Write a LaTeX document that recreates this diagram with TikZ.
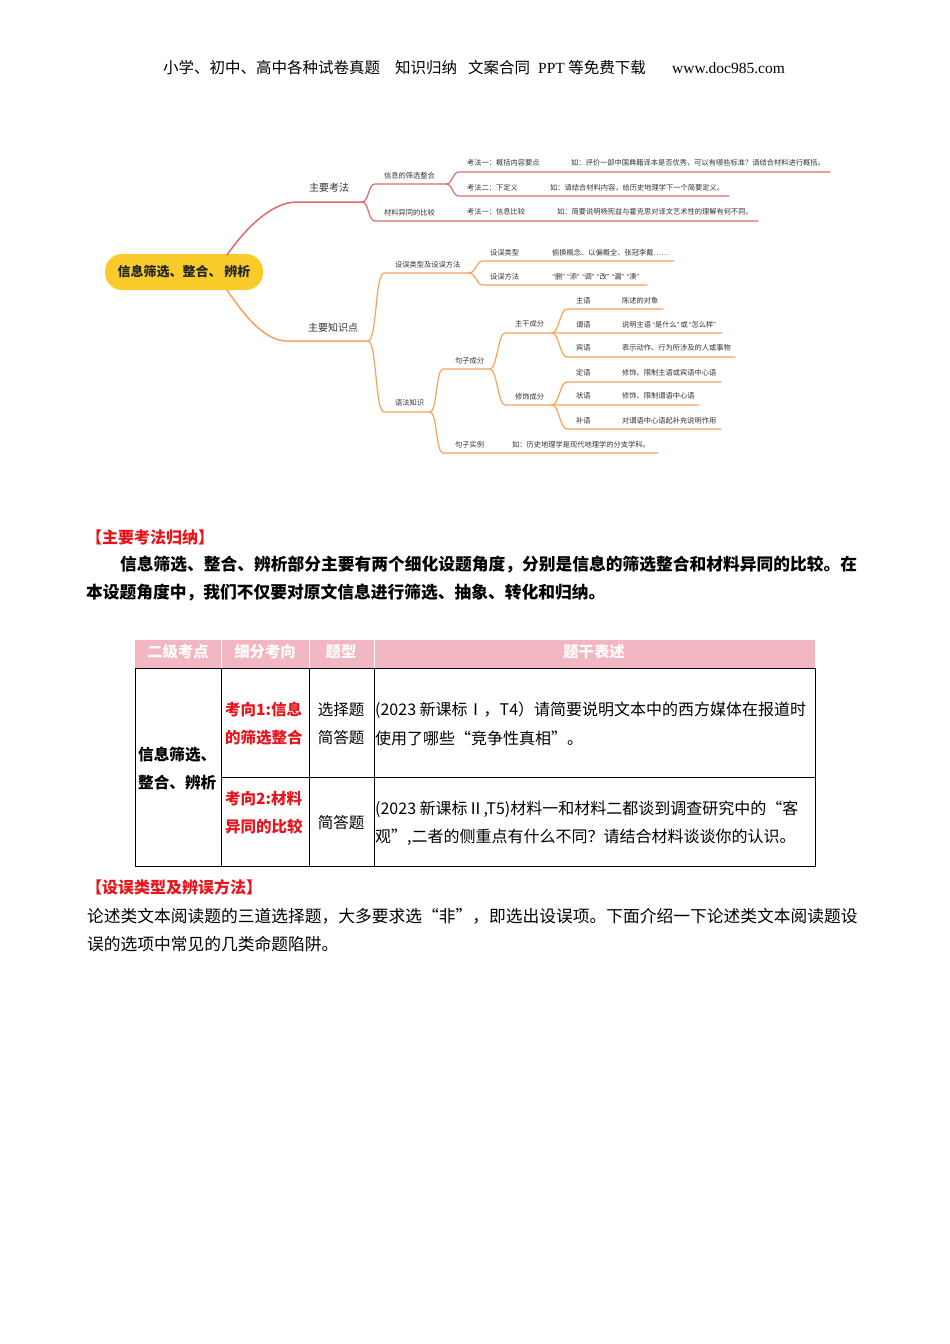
\documentclass[tikz,border=0pt]{standalone}
\usepackage{fontspec}
\setmainfont{Noto Sans CJK SC}
\newfontfamily\serifl{Liberation Serif}
\newfontfamily\qfont{Liberation Sans}
\newcommand\oq{\makebox[3.8pt][r]{\qfont “}}
\newcommand\cq{\makebox[3.8pt][l]{\qfont ”}}
\usetikzlibrary{calc}
\definecolor{mmred}{HTML}{E06A6C}
\definecolor{mmorg}{HTML}{F5A45C}
\definecolor{mmyel}{HTML}{F9CC2C}
\definecolor{mmtxt}{HTML}{333333}
\definecolor{hdpink}{HTML}{F3B6C3}
\definecolor{kred}{HTML}{E8141B}
\tikzset{
  redl/.style={draw=mmred,line width=1.2pt,line cap=round},
  orgl/.style={draw=mmorg,line width=1.2pt,line cap=round},
  sc/.style={to path={.. controls +(#1,0) and +(-#1,0) .. (\tikztotarget)}},
  sc/.default=7,
  sm/.style={anchor=west,inner sep=0pt,font=\fontsize{7.25}{8}\selectfont,text=mmtxt},
  lv1/.style={inner sep=0pt,font=\fontsize{10}{12}\selectfont,text=mmtxt},
  hdr/.style={anchor=west,inner sep=0pt,font=\fontsize{15.5}{18}\selectfont,text=black},
  sect/.style={anchor=west,inner sep=0pt,font=\fontsize{16}{19}\selectfont\bfseries,text=kred},
  parab/.style={anchor=west,inner sep=0pt,font=\fontsize{16.75}{20}\selectfont\bfseries,text=black},
  para/.style={anchor=west,inner sep=0pt,font=\fontsize{16.75}{20}\selectfont,text=black},
  th/.style={inner sep=0pt,font=\fontsize{15.3}{17}\selectfont\bfseries,text=white},
  td/.style={inner sep=0pt,font=\fontsize{15.5}{17}\selectfont,text=black},
  tdw/.style={anchor=west,inner sep=0pt,font=\fontsize{16}{18}\selectfont,text=black},
  tdb/.style={anchor=west,inner sep=0pt,font=\fontsize{15.6}{17}\selectfont\bfseries,text=black},
  tdr/.style={anchor=west,inner sep=0pt,font=\fontsize{15.5}{17}\selectfont\bfseries,text=kred},
  tline/.style={draw=black,line width=0.8pt},
}
\begin{document}
\begin{tikzpicture}[x=1pt,y=-1pt]
\useasboundingbox (0,0) rectangle (950,1344);
\fill[white] (0,0) rectangle (950,1344);

% ---------- page header ----------
\node[hdr] (h1) at (163,68) {小学、初中、高中各种试卷真题};
\node[hdr] (h2) at (395,68) {知识归纳};
\node[hdr] (h3) at (468,68) {文案合同};
\node[hdr] (h4) at (538,68) {{\serifl PPT} 等免费下载};
\node[hdr] (h5) at (672,68) {\serifl www.doc985.com};

% ---------- mind map ----------
\node[fill=mmyel,rounded corners=17pt,minimum width=158pt,minimum height=36pt,inner sep=0pt,
      font=\fontsize{13}{15}\selectfont\bfseries,text=black!85] (cn) at (184,272) {信息筛选、整合、 辨析};

\coordinate (c1) at (227,255);
\coordinate (c2) at (227,290);
\coordinate (r1) at (362,202);
\coordinate (r2) at (446,184);
\coordinate (o1) at (368,341);
\coordinate (o2) at (469,273);
\coordinate (o3) at (430,412);
\coordinate (o4) at (490,369);
\coordinate (o5) at (552,333);
\coordinate (o6) at (552,405);

% red branch
\draw[redl,line width=1.5pt] (c1) to[out=55,in=180,looseness=0.8] (297,202) -- (r1);
\draw[redl] (r1) to[sc] (375,184) -- (r2);
\draw[redl] (r1) to[sc] (375,221) -- (758,221);
\draw[redl] (r2) to[sc] (459,172) -- (830,172);
\draw[redl] (r2) to[sc] (459,196) -- (729,196);

% orange branch
\draw[orgl,line width=1.5pt] (c2) to[out=-55,in=180,looseness=0.8] (287,341) -- (o1);
\draw[orgl] (o1) to[sc=9] (384,273) -- (o2);
\draw[orgl] (o1) to[sc=9] (384,412) -- (o3);
\draw[orgl] (o2) to[sc] (483,261) -- (674,261);
\draw[orgl] (o2) to[sc] (483,285) -- (647,285);
\draw[orgl] (o3) to[sc] (443,369) -- (o4);
\draw[orgl] (o3) to[sc] (443,453) -- (658,453);
\draw[orgl] (o4) to[sc] (505,333) -- (o5) -- (722,333);
\draw[orgl] (o4) to[sc] (505,405) -- (o6) -- (699,405);
\draw[orgl] (o5) to[sc] (567,309) -- (663,309);
\draw[orgl] (o5) to[sc] (567,357) -- (735,357);
\draw[orgl] (o6) to[sc] (567,382) -- (721,382);
\draw[orgl] (o6) to[sc] (567,429) -- (721,429);

% texts
\node[lv1] (k1) at (329,188) {主要考法};
\node[lv1] (k2) at (333,328) {主要知识点};
\node[sm] (k11) at (384,176) {信息的筛选整合};
\node[sm] (k12) at (384,213) {材料异同的比较};
\node[sm] (k111) at (467,163) {考法一：概括内容要点};
\node[sm] (k111e) at (571,163) {如：评价一部中国典籍译本是否优秀，可以有哪些标准？请结合材料进行概括。};
\node[sm] (k112) at (467,188) {考法二：下定义};
\node[sm] (k112e) at (550,188) {如：请结合材料内容，给历史地理学下一个简要定义。};
\node[sm] (k121) at (467,212) {考法一：信息比较};
\node[sm] (k121e) at (557,212) {如：简要说明杨宪益与霍克思对译文艺术性的理解有何不同。};

\node[sm] (z1) at (395,265) {设误类型及设误方法};
\node[sm] (z11) at (490,253) {设误类型};
\node[sm] (z11e) at (552,253) {偷换概念、以偏概全、张冠李戴……};
\node[sm] (z12) at (490,277) {设误方法};
\node[sm] (z12e) at (551,277) {\oq 删\cq\oq 添\cq\oq 调\cq\oq 改\cq\oq 漏\cq\oq 凑\cq};
\node[sm] (z2) at (395,403) {语法知识};
\node[sm] (z21) at (455,361) {句子成分};
\node[sm] (z22) at (455,445) {句子实例};
\node[sm] (z22e) at (512,445) {如：历史地理学是现代地理学的分支学科。};
\node[sm] (z211) at (515,324) {主干成分};
\node[sm] (z212) at (515,397) {修饰成分};
\node[sm] (a1) at (576,301) {主语};
\node[sm] (a1e) at (622,301) {陈述的对象};
\node[sm] (a2) at (576,325) {谓语};
\node[sm] (a2e) at (622,325) {说明主语\oq 是什么\cq 或\oq 怎么样\cq};
\node[sm] (a3) at (576,348) {宾语};
\node[sm] (a3e) at (622,348) {表示动作、行为所涉及的人或事物};
\node[sm] (b1) at (576,373) {定语};
\node[sm] (b1e) at (622,373) {修饰、限制主语或宾语中心语};
\node[sm] (b2) at (576,396) {状语};
\node[sm] (b2e) at (622,396) {修饰、限制谓语中心语};
\node[sm] (b3) at (576,421) {补语};
\node[sm] (b3e) at (622,421) {对谓语中心语起补充说明作用};

% ---------- section 1 ----------
\node[sect] (s1) at (86,537) {【主要考法归纳】};
\node[parab] (p1) at (120,565) {信息筛选、整合、辨析部分主要有两个细化设题角度，分别是信息的筛选整合和材料异同的比较。在};
\node[parab] (p2) at (86,593) {本设题角度中，我们不仅要对原文信息进行筛选、抽象、转化和归纳。};

% ---------- table ----------
\fill[hdpink] (135,640) rectangle (815,668);
\foreach \xx in {221,309,374} \draw[white,line width=1pt] (\xx,640) -- (\xx,668);
\draw[tline] (135,668) rectangle (815,866);
\draw[tline] (221,668) -- (221,866);
\draw[tline] (309,668) -- (309,866);
\draw[tline] (374,668) -- (374,866);
\draw[tline] (221,777) -- (815,777);

\node[th] (t1) at (178,652) {二级考点};
\node[th] (t2) at (265,652) {细分考向};
\node[th] (t3) at (341,652) {题型};
\node[th] (t4) at (594,652) {题干表述};

\node[tdb] (c11) at (138,755) {信息筛选、};
\node[tdb] (c12) at (138,783) {整合、辨析};
\node[tdr] (c21) at (225,710) {考向1:信息};
\node[tdr] (c22) at (225,738) {的筛选整合};
\node[td] (c31) at (341,710) {选择题};
\node[td] (c32) at (341,738) {简答题};
\node[tdw] (c41) at (375,710) {(2023 新课标Ⅰ，T4）请简要说明文本中的西方媒体在报道时};
\node[tdw] (c42) at (375,738) {使用了哪些“竞争性真相”。};
\node[tdr] (d21) at (225,799) {考向2:材料};
\node[tdr] (d22) at (225,827) {异同的比较};
\node[td] (d31) at (341,823) {简答题};
\node[tdw] (d41) at (375,809) {(2023 新课标Ⅱ,T5)材料一和材料二都谈到调查研究中的“客};
\node[tdw] (d42) at (375,837) {观”,二者的侧重点有什么不同？请结合材料谈谈你的认识。};

% ---------- section 2 ----------
\node[sect] (s2) at (86,887) {【设误类型及辨误方法】};
\node[para] (q1) at (87,916) {论述类文本阅读题的三道选择题，大多要求选“非”，即选出设误项。下面介绍一下论述类文本阅读题设};
\node[para] (q2) at (87,944) {误的选项中常见的几类命题陷阱。};
\end{tikzpicture}
\end{document}
